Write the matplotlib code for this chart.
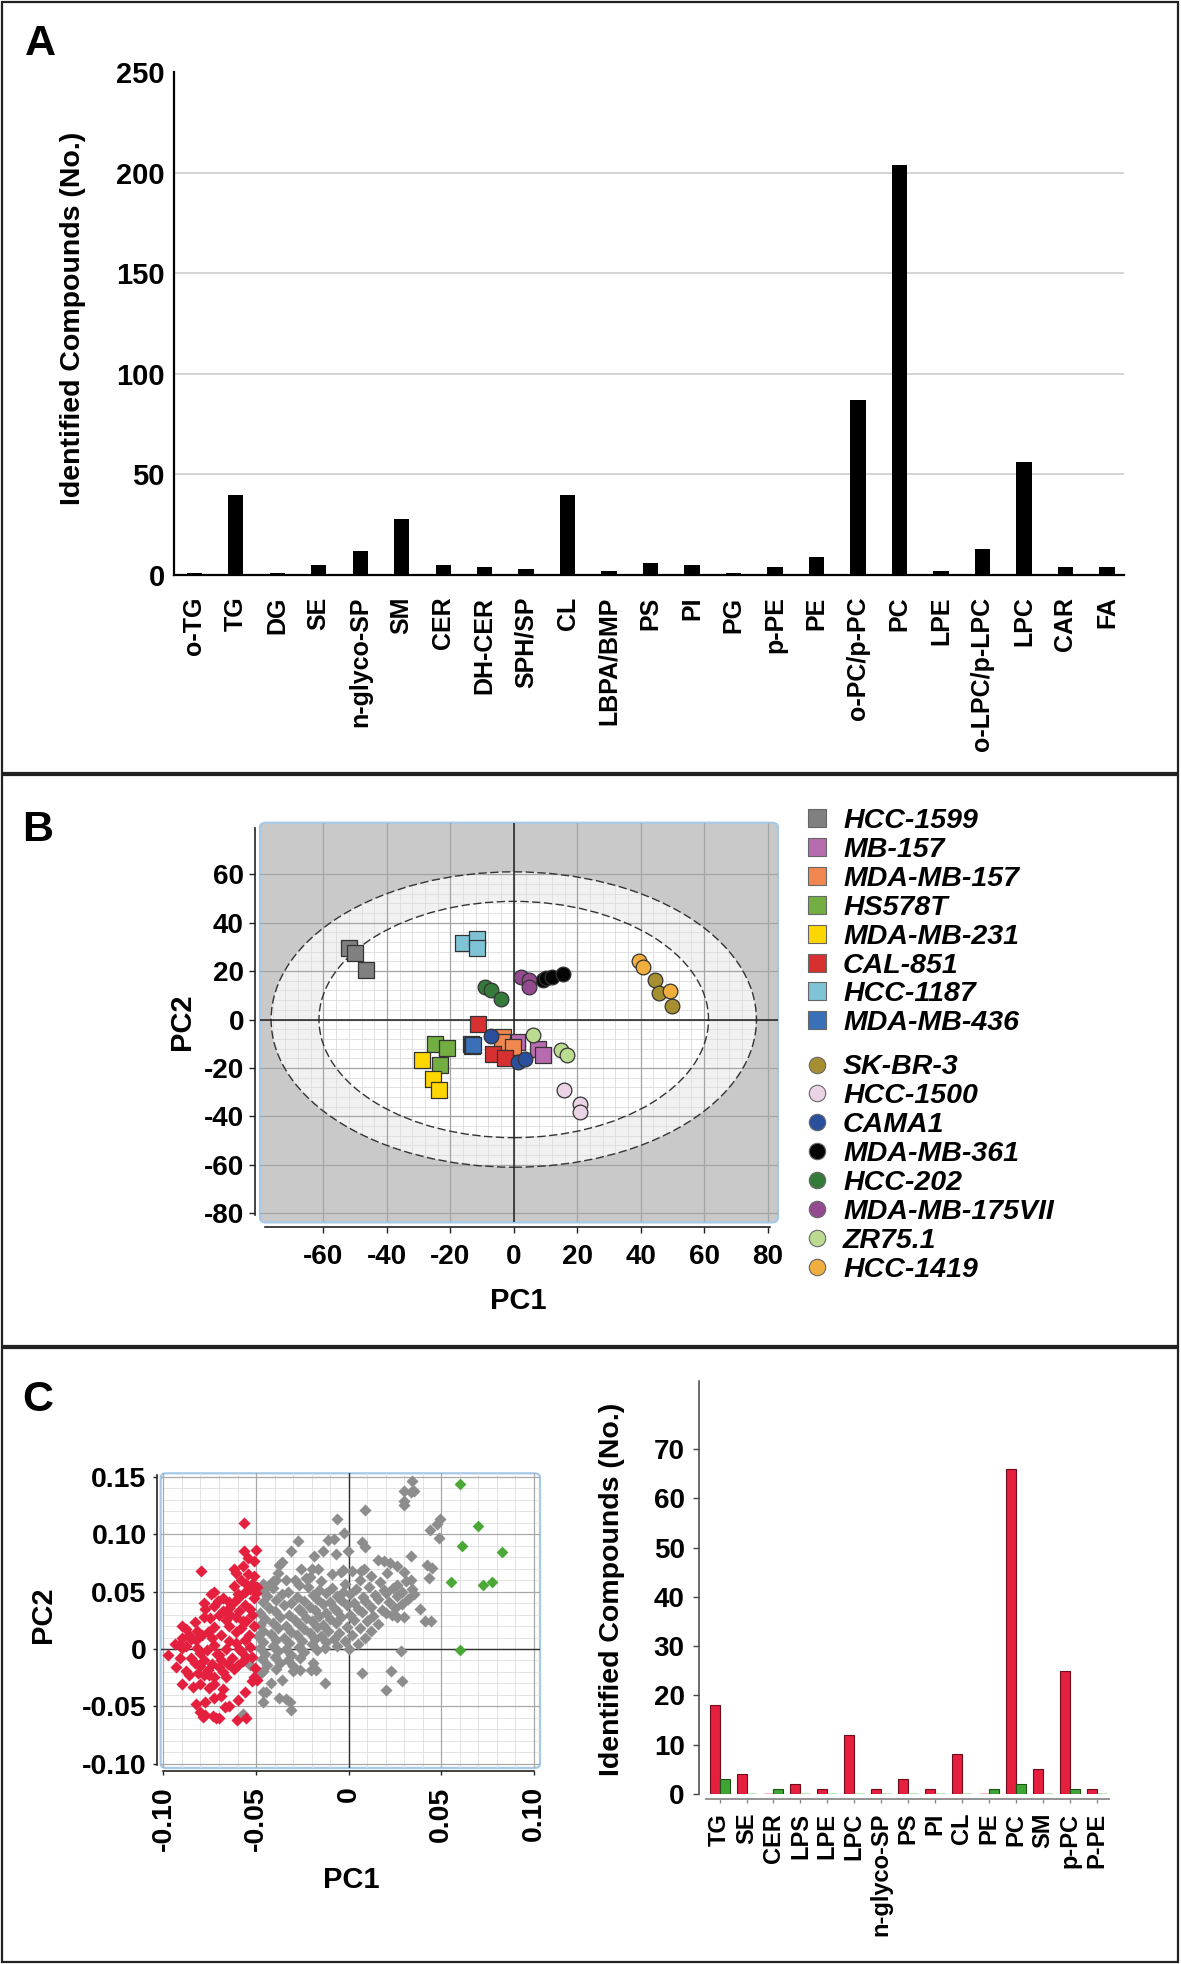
import numpy as np
import matplotlib
matplotlib.use('Agg')
import matplotlib.pyplot as plt
from matplotlib.patches import Ellipse, FancyBboxPatch, Rectangle

plt.rcParams['font.family'] = ['Liberation Sans', 'DejaVu Sans']
plt.rcParams['font.weight'] = 'bold'
plt.rcParams['axes.labelweight'] = 'bold'
plt.rcParams['axes.unicode_minus'] = False

# ---------------- Panel A data ----------------
a_categories = ['o-TG', 'TG', 'DG', 'SE', 'n-glyco-SP', 'SM', 'CER', 'DH-CER', 'SPH/SP', 'CL',
                'LBPA/BMP', 'PS', 'PI', 'PG', 'p-PE', 'PE', 'o-PC/p-PC', 'PC', 'LPE',
                'o-LPC/p-LPC', 'LPC', 'CAR', 'FA']
a_counts = [1, 40, 1, 5, 12, 28, 5, 4, 3, 40, 2, 6, 5, 1, 4, 9, 87, 204, 2, 13, 56, 4, 4]
a_yticks = [0, 50, 100, 150, 200, 250]
a_ylabel = 'Identified Compounds (No.)'

# ---------------- Panel B data ----------------
b_lines = ['HCC-1599', 'MB-157', 'MDA-MB-157', 'HS578T', 'MDA-MB-231', 'CAL-851', 'HCC-1187',
           'MDA-MB-436', 'SK-BR-3', 'HCC-1500', 'CAMA1', 'MDA-MB-361', 'HCC-202',
           'MDA-MB-175VII', 'ZR75.1', 'HCC-1419']
b_colors = ['#808080', '#b86cb0', '#f0874f', '#73ae42', '#ffd700', '#d73030', '#7fc4d6',
            '#3a70b8', '#a58f30', '#ebd3e6', '#2a4f9c', '#050505', '#347a3a',
            '#944a8f', '#badb90', '#f0ae3e']
b_markers = ['s'] * 8 + ['o'] * 8
b_pc1 = [[-52.0, -50.1, -46.6], [0.9, 7.7, 9.1], [-3.3, -3.8, -0.3], [-24.8, -21.2, -23.3],
         [-28.9, -25.4, -23.6], [-11.4, -6.5, -2.8], [-15.9, -11.7, -11.7], [-13.5, -13.2, -13.0],
         [44.5, 45.7, 50.0], [15.8, 20.9, 20.9], [-7.3, 1.4, 3.5], [9.3, 10.3, 12.0, 15.4],
         [-9.1, -7.3, -4.0], [2.2, 4.9, 4.9], [6.2, 14.8, 16.9], [39.6, 40.8, 49.3]]
b_pc2 = [[29.4, 27.6, 20.5], [-9.1, -12.3, -14.6], [-7.1, -9.4, -11.2], [-10.2, -11.6, -18.7],
         [-16.7, -24.5, -29.1], [-1.8, -14.2, -16.0], [31.8, 33.2, 29.4], [-10.1, -10.8, -10.5],
         [16.4, 11.1, 5.7], [-29.2, -34.8, -38.3], [-6.8, -17.4, -16.3], [16.4, 17.0, 17.7, 18.7],
         [13.6, 12.2, 8.4], [17.7, 16.4, 13.6], [-6.4, -12.6, -14.6], [24.2, 21.6, 11.8]]
b_xticks = [-60, -40, -20, 0, 20, 40, 60, 80]
b_yticks = [-80, -60, -40, -20, 0, 20, 40, 60]
b_ellipse_outer = (153.0, 122.0)   # full width / height of the outer confidence ellipse
b_ellipse_inner = (122.8, 97.6)

# ---------------- Panel C scatter data ----------------
c_red_pc1 = [-0.0565, -0.0797, -0.0565, -0.0498, -0.0542, -0.0513, -0.0571, -0.0542, -0.0509, -0.0609,
             -0.0523, -0.0555, -0.0619, -0.0494, -0.0498, -0.0509, -0.0725, -0.0744, -0.0773, -0.0706,
             -0.0677, -0.0648, -0.0619, -0.0648, -0.0725, -0.0609, -0.0571, -0.0552, -0.0513, -0.0648,
             -0.0725, -0.0783, -0.0831, -0.0851, -0.0899, -0.0918, -0.0976, -0.0932, -0.0899, -0.0879,
             -0.0822, -0.0802, -0.0764, -0.0725, -0.0702, -0.0663, -0.0648, -0.0609, -0.0590, -0.0552,
             -0.0523, -0.0600, -0.0571, -0.0503, -0.0513, -0.0494, -0.0523, -0.0663, -0.0725, -0.0754,
             -0.0783, -0.0812, -0.0879, -0.0899, -0.0841, -0.0802, -0.0754, -0.0725, -0.0677, -0.0687,
             -0.0725, -0.0825, -0.0773, -0.0773, -0.0735, -0.0716, -0.0667, -0.0648, -0.0600, -0.0561,
             -0.0604, -0.0552, -0.0702, -0.0802, -0.0787,
             -0.0850, -0.0830, -0.0800, -0.0780, -0.0760, -0.0740, -0.0700, -0.0690, -0.0680, -0.0650,
             -0.0630, -0.0620, -0.0580, -0.0560, -0.0540, -0.0530, -0.0610, -0.0580, -0.0660, -0.0690,
             -0.0740, -0.0760, -0.0790, -0.0820, -0.0860, -0.0880, -0.0900, -0.0700, -0.0680, -0.0750,
             -0.0780, -0.0640, -0.0590, -0.0560, -0.0530, -0.0520, -0.0600, -0.0560, -0.0530, -0.0580,
             -0.0620, -0.0590, -0.0710, -0.0820, -0.0860, -0.0940, -0.0910]
c_red_pc2 = [0.1094, 0.0681, 0.0853, 0.0860, 0.0791, 0.0763, 0.0722, 0.0653, 0.0636, 0.0660,
             0.0567, 0.0567, 0.0550, 0.0543, 0.0488, 0.0447, 0.0499, 0.0475, 0.0351, 0.0420,
             0.0447, 0.0413, 0.0413, 0.0361, 0.0378, 0.0282, 0.0241, 0.0241, 0.0199, 0.0199,
             0.0189, 0.0282, 0.0234, 0.0086, 0.0199, 0.0034, -0.0052, -0.0155, 0.0007, 0.0028,
             0.0076, -0.0034, -0.0007, 0.0034, -0.0052, 0.0000, 0.0069, 0.0052, 0.0000, -0.0069,
             -0.0069, -0.0138, -0.0103, -0.0165, -0.0241, -0.0268, -0.0275, -0.0241, -0.0241, -0.0224,
             -0.0224, -0.0206, -0.0189, -0.0309, -0.0327, -0.0303, -0.0337, -0.0303, -0.0351, -0.0413,
             -0.0430, -0.0481, -0.0464, -0.0578, -0.0585, -0.0602, -0.0509, -0.0499, -0.0447, -0.0371,
             -0.0619, -0.0602, -0.0602, -0.0550, -0.0591,
             -0.0080, -0.0120, -0.0150, -0.0100, -0.0180, -0.0130, -0.0160, -0.0100, -0.0200, -0.0130,
             -0.0080, -0.0170, -0.0020, 0.0080, 0.0120, 0.0020, 0.0150, 0.0180, 0.0250, 0.0120,
             0.0100, 0.0150, 0.0120, 0.0160, 0.0120, 0.0170, 0.0100, 0.0300, 0.0330, 0.0270,
             0.0400, 0.0300, 0.0330, 0.0380, 0.0350, 0.0300, 0.0480, 0.0500, 0.0520, 0.0600,
             0.0700, 0.0450, -0.0040, 0.0010, -0.0230, 0.0040, -0.0080]

c_gray_pc1 = [0.0340, 0.0297, 0.0336, 0.0355, 0.0300, 0.0297, 0.0089, -0.0060, 0.0496, 0.0480,
              0.0440, 0.0490, -0.0025, -0.0080, -0.0110, 0.0070, 0.0089, -0.0272, -0.0310, -0.0137,
              -0.0069, -0.0002, -0.0185, -0.0195, -0.0166, -0.0359, -0.0378, -0.0258, -0.0407, -0.0436,
              -0.0460, -0.0340, -0.0290, -0.0228, -0.0089, -0.0031, 0.0017, 0.0066, 0.0085, 0.0158,
              0.0191, 0.0224, 0.0262, 0.0336, 0.0301, 0.0336, 0.0422, 0.0451, 0.0432, 0.0355,
              0.0384, 0.0413, 0.0447, 0.0233, 0.0264, 0.0297, 0.0282, 0.0229, 0.0075, 0.0291,
              0.0201, -0.0127, 0.0000, -0.0204, -0.0176, -0.0262, -0.0300, -0.0359, -0.0417, -0.0465,
              -0.0446, -0.0460, -0.0378, -0.0340, -0.0316, -0.0310, -0.0571, -0.0474, -0.0532,
              -0.038, -0.021, -0.004, 0.012, 0.021,
              -0.046, -0.039, -0.027, -0.015, -0.002, 0.006, 0.017, 0.026, 0.031,
              -0.047, -0.041, -0.033, -0.022, -0.016, -0.009, -0.003, 0.004, 0.011, 0.019, 0.024, 0.029, 0.034,
              -0.044, -0.036, -0.028, -0.019, -0.012, -0.006, 0.001, 0.008, 0.014, 0.020, 0.026, 0.032,
              -0.046, -0.039, -0.031, -0.024, -0.017, -0.010, -0.004, 0.003, 0.009, 0.016, 0.022, 0.029,
              -0.043, -0.035, -0.027, -0.021, -0.014, -0.008, -0.001, 0.005, 0.012, 0.018, 0.025,
              -0.048, -0.040, -0.032, -0.025, -0.018, -0.012, -0.006, 0.001, 0.007, 0.013, 0.020,
              -0.045, -0.037, -0.029, -0.023, -0.016, -0.010, -0.004, 0.003, 0.010, 0.016,
              -0.048, -0.041, -0.034, -0.027, -0.020, -0.014, -0.007, -0.001, 0.006, 0.012,
              -0.046, -0.038, -0.031, -0.024, -0.017, -0.011, -0.005, 0.002, 0.009,
              -0.049, -0.042, -0.035, -0.028, -0.021, -0.015, -0.008, -0.002, 0.005,
              -0.046, -0.039, -0.032, -0.025, -0.018, -0.012, -0.006,
              -0.048, -0.041, -0.034, -0.027, -0.020, -0.013,
              -0.045, -0.038, -0.031, -0.024, -0.017,
              -0.047, -0.040, -0.033, -0.026, -0.019,
              -0.044, -0.037, -0.030,
              -0.046, -0.039]
c_gray_pc2 = [0.1460, 0.1380, 0.1370, 0.1375, 0.1290, 0.1255, 0.1210, 0.1135, 0.1135, 0.1090,
              0.1040, 0.0970, 0.1010, 0.0960, 0.0946, 0.0930, 0.0887, 0.0939, 0.0850, 0.0850,
              0.0832, 0.0850, 0.0810, 0.0695, 0.0695, 0.0757, 0.0729, 0.0695, 0.0591, 0.0550,
              0.0523, 0.0602, 0.0602, 0.0619, 0.0653, 0.0688, 0.0681, 0.0681, 0.0695, 0.0774,
              0.0763, 0.0750, 0.0722, 0.0808, 0.0670, 0.0602, 0.0729, 0.0705, 0.0619, 0.0481,
              0.0351, 0.0248, 0.0241, 0.0292, 0.0275, 0.0275, -0.0017, -0.0189, -0.0206, -0.0282,
              -0.0361, -0.0292, 0.0000, -0.0179, -0.0179, -0.0179, -0.0189, -0.0268, -0.0292, -0.0371,
              -0.0378, -0.0464, -0.0430, -0.0440, -0.0464, -0.0533, -0.0567, -0.0206, -0.0138,
              0.066, 0.063, 0.067, 0.064, 0.066,
              0.057, 0.060, 0.056, 0.059, 0.057, 0.060, 0.058, 0.056, 0.059,
              0.051, 0.053, 0.050, 0.054, 0.051, 0.053, 0.050, 0.052, 0.054, 0.051, 0.053, 0.050, 0.052,
              0.046, 0.048, 0.045, 0.047, 0.049, 0.046, 0.048, 0.045, 0.047, 0.049, 0.046, 0.044,
              0.041, 0.043, 0.040, 0.042, 0.044, 0.041, 0.043, 0.040, 0.042, 0.044, 0.041, 0.039,
              0.036, 0.038, 0.035, 0.037, 0.039, 0.036, 0.038, 0.035, 0.037, 0.034, 0.036,
              0.031, 0.033, 0.030, 0.032, 0.034, 0.031, 0.033, 0.030, 0.032, 0.029, 0.031,
              0.026, 0.028, 0.025, 0.027, 0.029, 0.026, 0.028, 0.025, 0.024, 0.022,
              0.021, 0.023, 0.020, 0.022, 0.024, 0.021, 0.023, 0.019, 0.018, 0.016,
              0.016, 0.018, 0.015, 0.017, 0.019, 0.016, 0.014, 0.012, 0.010,
              0.011, 0.013, 0.010, 0.012, 0.014, 0.011, 0.009, 0.007, 0.004,
              0.006, 0.008, 0.005, 0.007, 0.009, 0.006, 0.003,
              0.001, 0.003, 0.000, 0.002, 0.004, 0.001,
              -0.004, -0.002, -0.005, -0.003, -0.001,
              -0.009, -0.007, -0.010, -0.008, -0.012,
              -0.014, -0.012, -0.015,
              -0.019, -0.017]

c_green_pc1 = [0.0600, 0.0698, 0.0613, 0.0827, 0.0552, 0.0725, 0.0775, 0.0600]
c_green_pc2 = [0.1437, 0.1073, 0.0900, 0.0842, 0.0581, 0.0557, 0.0585, -0.0010]
c_sc_xticks = [-0.10, -0.05, 0, 0.05, 0.10]
c_sc_xticklabels = ['-0.10', '-0.05', '0', '0.05', '0.10']
c_sc_yticks = [-0.10, -0.05, 0, 0.05, 0.10, 0.15]
c_sc_yticklabels = ['-0.10', '-0.05', '0', '0.05', '0.10', '0.15']

# ---------------- Panel C bar data ----------------
c_categories = ['TG', 'SE', 'CER', 'LPS', 'LPE', 'LPC', 'n-glyco-SP', 'PS', 'PI', 'CL', 'PE', 'PC',
                'SM', 'p-PC', 'P-PE']
c_red_counts = [18, 4, 0, 2, 1, 12, 1, 3, 1, 8, 0, 66, 5, 25, 1]
c_green_counts = [3, 0, 1, 0, 0, 0, 0, 0, 0, 0, 1, 2, 0, 1, 0]
c_yticks = [0, 10, 20, 30, 40, 50, 60, 70]

# ======================================================
W, H = 1181, 1964
fig = plt.figure(figsize=(W / 100, H / 100), dpi=100)


def rect(left, top, width, height):
    return [left / W, 1 - (top + height) / H, width / W, height / H]


# panel frames
for top, bottom in [(2, 773), (775, 1346), (1348, 1962)]:
    fig.add_artist(Rectangle((2 / W, 1 - bottom / H), 1176 / W, (bottom - top) / H,
                             transform=fig.transFigure, fill=False, ec='#222222', lw=1.6))

for letter, (px, py) in zip(['A', 'B', 'C'], [(40, 44), (38, 830), (38, 1400)]):
    fig.text(px / W, 1 - py / H, letter, fontsize=31, fontweight='bold', ha='center', va='center')

# ---------------- Panel A ----------------
axA = fig.add_axes(rect(174, 72, 949.5, 503))
xa = np.arange(len(a_categories))
axA.bar(xa, a_counts, width=0.37, color='black', zorder=3)
axA.set_xlim(-0.49, 22.4)
axA.set_ylim(0, 250)
axA.set_yticks(a_yticks)
axA.set_xticks(xa, a_categories)
axA.set_axisbelow(True)
axA.yaxis.grid(True, color='#d4d4d4', lw=1.4)
axA.get_ygridlines()[-1].set_visible(False)
for s in ['top', 'right']:
    axA.spines[s].set_visible(False)
axA.spines['left'].set_linewidth(1.6)
axA.spines['bottom'].set_linewidth(1.6)
axA.tick_params(axis='both', length=0)
axA.tick_params(axis='y', labelsize=21, pad=6.5)
axA.tick_params(axis='x', labelsize=18, pad=15.5, labelrotation=90)
axA.set_ylabel(a_ylabel, fontsize=20.5)
axA.yaxis.set_label_coords(-0.0927, 0.511)

# ---------------- Panel B ----------------
axB = fig.add_axes(rect(260, 822.7, 518, 399.7))
axB.set_xlim(-80.0, 83.3)
axB.set_ylim(-83.8, 81.3)
axB.set_facecolor('none')
axB.add_patch(FancyBboxPatch((0, 0), 1, 1, boxstyle='round,pad=0,rounding_size=0.012',
                             transform=axB.transAxes, fc='#c9c9c9', ec='#a6c9e8', lw=1.6,
                             zorder=0.1, clip_on=False))
outer = Ellipse((0, 0), *b_ellipse_outer, fc='#f1f1f1', ec='none', zorder=0.2)
inner = Ellipse((0, 0), *b_ellipse_inner, fc='white', ec='none', zorder=0.3)
axB.add_patch(outer)
axB.add_patch(inner)
minor_b = np.arange(-80, 84, 4)
axB.vlines(minor_b, -90, 90, colors='#dcdcdc', lw=0.6, zorder=0.4, clip_path=outer)
axB.hlines(minor_b, -90, 90, colors='#dcdcdc', lw=0.6, zorder=0.4, clip_path=outer)
for w, h in [b_ellipse_outer, b_ellipse_inner]:
    axB.add_patch(Ellipse((0, 0), w, h, fill=False, ec='#333333', lw=1.0,
                          ls=(0, (6, 2.5)), zorder=1.5))
axB.set_xticks(b_xticks)
axB.set_yticks(b_yticks)
axB.set_axisbelow(True)
axB.grid(True, color='#a4a4a4', lw=0.9)
axB.axhline(0, color='#222222', lw=1.1, zorder=1.6)
axB.axvline(0, color='#222222', lw=1.1, zorder=1.6)
for name, col, mk, xs, ys in zip(b_lines, b_colors, b_markers, b_pc1, b_pc2):
    axB.scatter(xs, ys, marker=mk, s=118 if mk == 's' else 112, c=col,
                edgecolors='#333333', linewidths=0.9, zorder=3)
for s in ['top', 'right']:
    axB.spines[s].set_visible(False)
axB.spines['left'].set_position(('outward', 3.6))
axB.spines['left'].set_bounds(-80.7, 79)
axB.spines['bottom'].set_position(('outward', 3.3))
axB.spines['bottom'].set_bounds(-78.4, 80.9)
for s in ['left', 'bottom']:
    axB.spines[s].set_linewidth(1.2)
    axB.spines[s].set_color('#222222')
axB.tick_params(direction='out', length=4, width=1, labelsize=20, color='#222222')
axB.tick_params(axis='x', pad=8)
axB.tick_params(axis='y', pad=4)
axB.set_xlabel('PC1', fontsize=21)
axB.set_ylabel('PC2', fontsize=21)
axB.xaxis.set_label_coords(0.498, -0.1616)
axB.yaxis.set_label_coords(-0.1236, 0.501)

# legend for panel B (drawn in a pixel-space overlay axes)
axL = fig.add_axes([0, 0, 1, 1], zorder=5)
axL.set_xlim(0, W)
axL.set_ylim(H, 0)
axL.axis('off')
row_pitch = 28.9
legend_rows = [818 + i * row_pitch for i in range(8)] + [1064.5 + i * row_pitch for i in range(8)]
for name, col, mk, ry in zip(b_lines, b_colors, b_markers, legend_rows):
    axL.scatter([816.5], [ry], marker=mk, s=150 if mk == 's' else 140, c=col,
                edgecolors='#666666', linewidths=0.8)
    axL.text(843, ry, name, fontsize=20.5, fontweight='bold', fontstyle='italic',
             ha='left', va='center_baseline')

# ---------------- Panel C scatter ----------------
axC1 = fig.add_axes(rect(160.7, 1473.3, 379.3, 294.7))
axC1.set_xlim(-0.1015, 0.1034)
axC1.set_ylim(-0.1037, 0.1531)
axC1.set_facecolor('none')
axC1.add_patch(FancyBboxPatch((0, 0), 1, 1, boxstyle='round,pad=0,rounding_size=0.015',
                              transform=axC1.transAxes, fc='white', ec='#a6c9e8', lw=1.6,
                              zorder=0.1, clip_on=False))
axC1.vlines(np.arange(-0.10, 0.1041, 0.01), -1, 1, colors='#dedede', lw=0.6, zorder=0.3)
axC1.hlines(np.arange(-0.10, 0.1541, 0.01), -1, 1, colors='#dedede', lw=0.6, zorder=0.3)
axC1.set_xticks(c_sc_xticks, c_sc_xticklabels)
axC1.set_yticks(c_sc_yticks, c_sc_yticklabels)
axC1.set_axisbelow(True)
axC1.grid(True, color='#a8a8a8', lw=0.9)
axC1.axhline(0, color='#333333', lw=1.0, zorder=1)
axC1.axvline(0, color='#333333', lw=1.0, zorder=1)
axC1.scatter(c_gray_pc1, c_gray_pc2, marker='D', s=38, c='#8d8d8d', linewidths=0, zorder=2)
axC1.scatter(c_red_pc1, c_red_pc2, marker='D', s=38, c='#e51f3e', linewidths=0, zorder=3)
axC1.scatter(c_green_pc1, c_green_pc2, marker='D', s=36, c='#4aa936', linewidths=0, zorder=4)
for s in ['top', 'right']:
    axC1.spines[s].set_visible(False)
axC1.spines['left'].set_position(('outward', 2.7))
axC1.spines['left'].set_bounds(-0.101, 0.1516)
axC1.spines['bottom'].set_position(('outward', 2.2))
axC1.spines['bottom'].set_bounds(-0.1005, 0.1001)
for s in ['left', 'bottom']:
    axC1.spines[s].set_linewidth(1.2)
    axC1.spines[s].set_color('#222222')
axC1.tick_params(direction='out', length=3, width=1, labelsize=20.5, color='#222222')
axC1.tick_params(axis='x', pad=8, labelrotation=90)
axC1.tick_params(axis='y', pad=4.5)
axC1.set_xlabel('PC1', fontsize=21)
axC1.set_ylabel('PC2', fontsize=21)
axC1.xaxis.set_label_coords(0.502, -0.3325)
axC1.yaxis.set_label_coords(-0.2734, 0.521)

# ---------------- Panel C bars ----------------
axC2 = fig.add_axes(rect(699, 1380.5, 409.5, 413.4))
xc = np.arange(len(c_categories))
red_edges = ['#f3a3b2' if v == 0 else '#6e0c1a' for v in c_red_counts]
green_edges = ['#a9dca0' if v == 0 else '#1e4f18' for v in c_green_counts]
red_lw = [1.8 if v == 0 else 0.8 for v in c_red_counts]
green_lw = [1.8 if v == 0 else 0.8 for v in c_green_counts]
axC2.bar(xc - 0.185, c_red_counts, width=0.37, color='#e51f3e', edgecolor=red_edges,
         linewidth=red_lw, zorder=3)
axC2.bar(xc + 0.185, c_green_counts, width=0.37, color='#3fa535', edgecolor=green_edges,
         linewidth=green_lw, zorder=3)
axC2.set_xlim(-0.765, 14.44)
axC2.set_ylim(0, 83.9)
axC2.set_yticks(c_yticks)
axC2.set_xticks(xc, c_categories)
for s in ['top', 'right']:
    axC2.spines[s].set_visible(False)
axC2.spines['left'].set_color('#444444')
axC2.spines['left'].set_linewidth(1.1)
axC2.spines['bottom'].set_position(('outward', 3.6))
axC2.spines['bottom'].set_bounds(-0.49, 14.44)
axC2.spines['bottom'].set_color('#8a8a8a')
axC2.spines['bottom'].set_linewidth(1.3)
axC2.tick_params(axis='y', direction='out', length=4.3, width=1, labelsize=20, pad=6,
                 color='#444444')
axC2.tick_params(axis='x', direction='out', length=3, width=1, labelsize=17, pad=7,
                 color='#8a8a8a', labelrotation=90)
axC2.set_ylabel(a_ylabel, fontsize=20.5)
axC2.yaxis.set_label_coords(-0.18, 0.494)

fig.savefig('out.png', dpi=100)
